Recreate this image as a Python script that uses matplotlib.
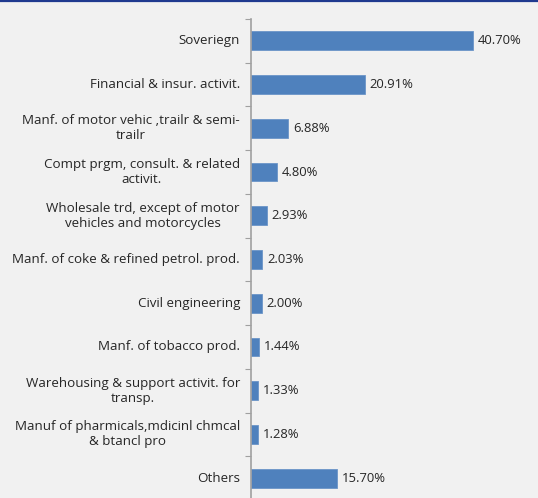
import matplotlib
matplotlib.use("Agg")
import matplotlib.pyplot as plt
from matplotlib.lines import Line2D

sectors = ["Soveriegn", "Financial & insur. activit.",
           "Manf. of motor vehic ,trailr & semi-\ntrailr",
           "Compt prgm, consult. & related\nactivit.",
           "Wholesale trd, except of motor\nvehicles and motorcycles",
           "Manf. of coke & refined petrol. prod.",
           "Civil engineering", "Manf. of tobacco prod.",
           "Warehousing & support activit. for\ntransp.",
           "Manuf of pharmicals,mdicinl chmcal\n& btancl pro", "Others"]
shares = [40.70, 20.91, 6.88, 4.80, 2.93, 2.03, 2.00, 1.44, 1.33, 1.28, 15.70]

plt.rcParams['font.family'] = ['Open Sans', 'DejaVu Sans']
bg = '#f1f1f1'
fig = plt.figure(figsize=(5.38, 4.98), dpi=100, facecolor=bg)
W, H = 538, 498
ax = fig.add_axes([251 / W, 1 - 500 / H, 279 / W, 481 / H])
ax.set_facecolor(bg)

pos = list(range(len(sectors)))
ax.barh(pos, shares, height=0.43, color='#4f81bd', edgecolor='#6b95c8', linewidth=0.6)
for p, v in zip(pos, shares):
    ax.text(v + 0.9, p, '%.2f%%' % v, va='center', ha='left', fontsize=9.4, color='#262626')

# category labels drawn as text so the two-line ones can be centred
for p, s in zip(pos, sectors):
    ax.text(-11 / 279, p, s, transform=ax.get_yaxis_transform(), ha='right', va='center',
            multialignment='center', linespacing=1.2, fontsize=9.6, color='#262626')

ax.set_ylim(len(sectors) - 0.5, -0.5)
ax.set_xlim(0, 51.2)
ax.set_yticks([])
ax.set_yticks([i - 0.5 for i in range(len(sectors) + 1)], minor=True)
ax.tick_params(axis='y', which='minor', length=4, width=0.8, color='#a0a0a0')
ax.set_xticks([])
for s in ['top', 'right', 'bottom']:
    ax.spines[s].set_visible(False)
ax.spines['left'].set_color('#a0a0a0')
ax.spines['left'].set_linewidth(1.2)

fig.add_artist(Line2D([0, 1], [1 - 0.8 / H, 1 - 0.8 / H], color='#1f3a8f', linewidth=1.6,
                      transform=fig.transFigure))

fig.savefig('out.png', dpi=100, facecolor=bg)
